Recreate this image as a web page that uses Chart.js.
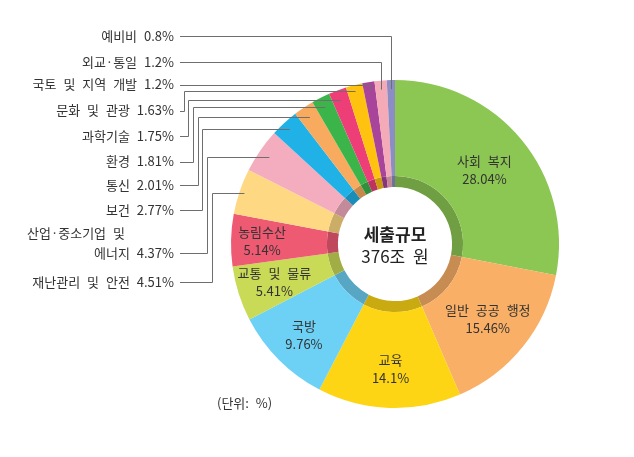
<!DOCTYPE html>
<html><head><meta charset="utf-8">
<script src="https://cdn.jsdelivr.net/npm/chart.js@4/dist/chart.umd.min.js"></script>
<style>html,body{margin:0;padding:0;background:#fff}#wrap{width:634px;height:457px;position:relative}</style>
</head><body><div id="wrap"><canvas id="c"></canvas></div>
<script>
// ---- data ----
const categories = ['사회 복지','일반 공공 행정','교육','국방','교통 및 물류','농림수산','재난관리 및 안전','산업·중소기업 및 에너지','보건','통신','환경','과학기술','문화 및 관광','국토 및 지역 개발','외교·통일','예비비'];
const shares = [28.04,15.46,14.1,9.76,5.41,5.14,4.51,4.37,2.77,2.01,1.81,1.75,1.63,1.2,1.2,0.8];
const valueLabels = ['28.04%','15.46%','14.1%','9.76%','5.41%','5.14%','4.51%','4.37%','2.77%','2.01%','1.81%','1.75%','1.63%','1.2%','1.2%','0.8%'];
const centerTitle = '세출규모';
const centerValue = '376조 원';
const unitNote = '(단위: %)';

// ---- style ----
const colors = ['#8CC653','#F9AF65','#FDD515','#6DD0F5','#C9DA57','#EF5A73','#FED882','#F4ADBF','#20B1E6','#F8AA5E','#3BB54A','#EE3E78','#FFC20F','#A9449B','#F5AAB8','#8C8DC5'];
function darken(hex, f){
  const n = parseInt(hex.slice(1),16);
  const r = Math.round(((n>>16)&255)*f), g = Math.round(((n>>8)&255)*f), b = Math.round((n&255)*f);
  return 'rgb('+r+','+g+','+b+')';
}
const bandColors = colors.map(c => darken(c, 0.8));
const FONT = '"Noto Sans CJK KR", "Noto Sans", sans-serif';
const TXT = '#333';

// inner label radial position (fraction of ring thickness) for big segments
const innerLabelPos = {0:0.55,1:0.58,2:0.64,3:0.67,4:0.65,5:0.71};
// callout layout for small segments (label lines, elbow x, leader level y)
const callouts = {
  6: {lines:['재난관리 및 안전 4.51%'], ly:[282], ex:212, hy:193},
  7: {lines:['산업·중소기업 및','에너지 4.37%'], ly:[233,253], ex:207, hy:157},
  8: {lines:['보건 2.77%'], ly:[210], ex:202, hy:129},
  9: {lines:['통신 2.01%'], ly:[185], ex:198, hy:117},
  10:{lines:['환경 1.81%'], ly:[161.5], ex:193, hy:107},
  11:{lines:['과학기술 1.75%'], ly:[136], ex:188, hy:100},
  12:{lines:['문화 및 관광 1.63%'], ly:[110.5], ex:184, hy:91},
  13:{lines:['국토 및 지역 개발 1.2%'], ly:[84.5]},
  14:{lines:['외교·통일 1.2%'], ly:[62]},
  15:{lines:['예비비 0.8%'], ly:[36]}
};

const labelPlugin = {
  id:'labels',
  afterDatasetsDraw(chart){
    const ctx = chart.ctx;
    const outer = chart.getDatasetMeta(0).data;
    const band = chart.getDatasetMeta(1).data;
    const cx = outer[0].x, cy = outer[0].y;
    const Rout = outer[0].outerRadius, Rin = band[0].innerRadius;
    ctx.save();
    try { ctx.wordSpacing = '4px'; } catch(e) {}
    ctx.fillStyle = TXT;
    ctx.textBaseline = 'middle';
    // inner labels
    ctx.font = '13px ' + FONT;
    ctx.textAlign = 'center';
    Object.keys(innerLabelPos).forEach(k => {
      const i = +k, a = outer[i];
      const m = (a.startAngle + a.endAngle)/2;
      const r = Rin + (Rout - Rin)*innerLabelPos[k];
      const x = cx + r*Math.cos(m), y = cy + r*Math.sin(m);
      ctx.fillText(categories[i], x, y - 9);
      ctx.fillText(valueLabels[i], x, y + 9);
    });
    // callouts
    ctx.strokeStyle = '#6e6e6e';
    ctx.lineWidth = 1;
    const px = v => Math.round(v) + 0.5;
    Object.keys(callouts).forEach(k => {
      const i = +k, c = callouts[k], a = outer[i];
      c.lines.forEach((t, j) => {
        if (c.lines.length > 1 && j === 0) {
          ctx.textAlign = 'left';
          ctx.fillText(t, 27, c.ly[j]);
        } else {
          ctx.textAlign = 'right';
          ctx.fillText(t, 174, c.ly[j]);
        }
      });
      const m = (a.startAngle + a.endAngle)/2;
      const ly = c.ly[c.ly.length-1];
      const hy = c.hy !== undefined ? c.hy : ly;
      ctx.beginPath();
      ctx.moveTo(180, px(ly));
      if (c.ex !== undefined){
        ctx.lineTo(px(c.ex), px(ly));
        ctx.lineTo(px(c.ex), px(hy));
      }
      const rHit = (hy - cy)/Math.sin(m);
      if (rHit > Rin + 5 && rHit < Rout - 4){
        ctx.lineTo(cx + rHit*Math.cos(m), px(hy));
      } else {
        const r = Rout - 9;
        const x = cx + r*Math.cos(m), y = cy + r*Math.sin(m);
        ctx.lineTo(px(x), px(hy));
        ctx.lineTo(px(x), y);
      }
      ctx.stroke();
    });
    // center text
    ctx.textAlign = 'center';
    ctx.font = 'bold 17px ' + FONT;
    ctx.fillStyle = '#222';
    ctx.fillText(centerTitle, cx, cy - 9);
    ctx.font = '17px ' + FONT;
    ctx.fillText(centerValue, cx, cy + 13);
    // unit note
    ctx.font = '13px ' + FONT;
    ctx.fillStyle = TXT;
    ctx.textAlign = 'left';
    ctx.fillText(unitNote, 217, 403);
    ctx.restore();
  }
};

new Chart(document.getElementById('c'), {
  type:'doughnut',
  data:{
    labels: categories,
    datasets:[
      {data: shares, backgroundColor: colors, borderWidth:0, weight:96},
      {data: shares, backgroundColor: bandColors, borderWidth:0, weight:11}
    ]
  },
  options:{
    responsive:true, maintainAspectRatio:false, animation:false, events:[],
    cutout:'34.8%',
    layout:{padding:{left:231, right:75, top:80, bottom:49}},
    plugins:{legend:{display:false}, tooltip:{enabled:false}}
  },
  plugins:[labelPlugin]
});
</script>
</body></html>
